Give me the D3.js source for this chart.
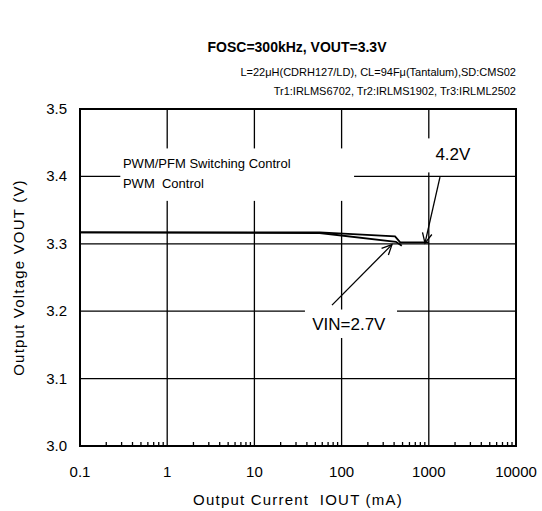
<!DOCTYPE html>
<html>
<head>
<meta charset="utf-8">
<script src="https://cdn.jsdelivr.net/npm/d3@7"></script>
<style>
body { margin: 0; background: #fff; }
text { font-family: "Liberation Sans", Arial, sans-serif; fill: #000; white-space: pre; }
</style>
</head>
<body>
<div id="chart"></div>
<script>
// ---- data ----
const xTicks = [0.1, 1, 10, 100, 1000, 10000];
const yTicks = [3.0, 3.1, 3.2, 3.3, 3.4, 3.5];
// VIN = 2.7V curve
const iout27 = [0.1, 56, 420, 490];
const vout27 = [3.317, 3.316, 3.303, 3.297];
// VIN = 4.2V curve
const iout42 = [0.1, 56, 410, 470, 1000];
const vout42 = [3.317, 3.317, 3.311, 3.302, 3.302];

const width = 542, height = 511;
const margin = {left: 80, right: 26, top: 109, bottom: 65};

const svg = d3.select("#chart").append("svg")
    .attr("width", width)
    .attr("height", height);

//----------------------------SCALES----------------------------//
const xScale = d3.scaleLog().domain([0.1, 10000]).range([margin.left, width - margin.right]);
const yScale = d3.scaleLinear().domain([3.0, 3.5]).range([height - margin.bottom, margin.top]);
const x0 = xScale.range()[0], x1 = xScale.range()[1];
const y0 = yScale.range()[0], y1 = yScale.range()[1];

//----------------------------TITLES----------------------------//
svg.append("text")
    .attr("x", 297).attr("y", 52)
    .attr("text-anchor", "middle")
    .style("font-size", "14px").style("font-weight", "bold")
    .text("FOSC=300kHz, VOUT=3.3V");

svg.append("text")
    .attr("x", x1).attr("y", 76)
    .attr("text-anchor", "end")
    .style("font-size", "11px")
    .text("L=22\u03BCH(CDRH127/LD), CL=94F\u03BC(Tantalum),SD:CMS02");
svg.append("text")
    .attr("x", x1).attr("y", 95)
    .attr("text-anchor", "end")
    .style("font-size", "11px")
    .text("Tr1:IRLMS6702, Tr2:IRLMS1902, Tr3:IRLML2502");

//----------------------------GRID-----------------------------//
svg.append("g").selectAll("line")
    .data(xTicks.slice(1, -1))
    .enter().append("line")
    .attr("x1", d => xScale(d)).attr("x2", d => xScale(d))
    .attr("y1", y0).attr("y2", y1)
    .attr("stroke", "#000").attr("stroke-width", 1.3);

svg.append("g").selectAll("line")
    .data(yTicks.slice(1, -1))
    .enter().append("line")
    .attr("x1", x0).attr("x2", x1)
    .attr("y1", d => yScale(d)).attr("y2", d => yScale(d))
    .attr("stroke", "#000").attr("stroke-width", 1.3);

// minor ticks on the bottom axis
const minor = [];
xTicks.slice(0, -1).forEach(function(d) {
    for (let k = 2; k <= 9; k++) minor.push(d * k);
});
svg.append("g").selectAll("line")
    .data(minor)
    .enter().append("line")
    .attr("x1", d => xScale(d)).attr("x2", d => xScale(d))
    .attr("y1", y0).attr("y2", y0 - 4)
    .attr("stroke", "#000").attr("stroke-width", 1.3);

//----------------------------LINES-----------------------------//
const line = d3.line()
    .x(d => xScale(d[0]))
    .y(d => yScale(d[1]));

[[iout27, vout27], [iout42, vout42]].forEach(function(s) {
    svg.append("path")
        .datum(d3.zip(s[0], s[1]))
        .attr("d", line)
        .attr("fill", "none")
        .attr("stroke", "#000")
        .attr("stroke-width", 1.8);
});

//-------------------------ANNOTATIONS--------------------------//
// white boxes behind the labels (they hide the grid)
const boxes = [
    {xa: 0.29, xb: 139, ya: 3.4415, yb: 3.3637},
    {xa: 780, xb: 2600, ya: 3.4564, yb: 3.4059},
    {xa: 38, xb: 432, ya: 3.2025, yb: 3.1602}
];
svg.append("g").selectAll("rect")
    .data(boxes)
    .enter().append("rect")
    .attr("x", d => xScale(d.xa))
    .attr("y", d => yScale(d.ya))
    .attr("width", d => xScale(d.xb) - xScale(d.xa))
    .attr("height", d => yScale(d.yb) - yScale(d.ya))
    .attr("fill", "#fff");

const labels = [
    {x: 0.311, y: 3.4118, size: 13, t: "PWM/PFM Switching Control"},
    {x: 0.311, y: 3.3822, size: 13, t: "PWM  Control"},
    {x: 1190, y: 3.4237, size: 17, t: "4.2V"},
    {x: 46, y: 3.1715, size: 17, t: "VIN=2.7V"}
];
svg.append("g").selectAll("text")
    .data(labels)
    .enter().append("text")
    .attr("x", d => xScale(d.x))
    .attr("y", d => yScale(d.y))
    .style("font-size", d => d.size + "px")
    .text(d => d.t);

const arrows = [
    {from: [1343, 3.399], to: [904, 3.301]},
    {from: [77.6, 3.209], to: [378, 3.2988]}
];
arrows.forEach(function(a) {
    const fx = xScale(a.from[0]), fy = yScale(a.from[1]);
    const tx = xScale(a.to[0]), ty = yScale(a.to[1]);
    const ang = Math.atan2(ty - fy, tx - fx);
    const L = 11, spread = 0.45;
    svg.append("line")
        .attr("x1", fx).attr("y1", fy).attr("x2", tx).attr("y2", ty)
        .attr("stroke", "#000").attr("stroke-width", 1.3);
    svg.append("path")
        .attr("d", "M" + (tx - L * Math.cos(ang - spread)) + "," + (ty - L * Math.sin(ang - spread))
            + "L" + tx + "," + ty
            + "L" + (tx - L * Math.cos(ang + spread)) + "," + (ty - L * Math.sin(ang + spread)))
        .attr("fill", "none")
        .attr("stroke", "#000").attr("stroke-width", 1.3);
});

//-----------------------------AXES-----------------------------//
svg.append("rect")
    .attr("x", x0).attr("y", y1)
    .attr("width", x1 - x0).attr("height", y0 - y1)
    .attr("fill", "none").attr("stroke", "#000").attr("stroke-width", 2);

svg.append("g").selectAll("text")
    .data(xTicks)
    .enter().append("text")
    .attr("x", d => xScale(d))
    .attr("y", y0 + 31)
    .attr("text-anchor", "middle")
    .style("font-size", "15px")
    .text(d => String(d));

svg.append("g").selectAll("text")
    .data(yTicks)
    .enter().append("text")
    .attr("x", x0 - 13)
    .attr("y", d => yScale(d) + 5)
    .attr("text-anchor", "end")
    .style("font-size", "15px")
    .text(d => d3.format(".1f")(d));

svg.append("text")
    .attr("x", (x0 + x1) / 2)
    .attr("y", 505)
    .attr("text-anchor", "middle")
    .style("font-size", "15px")
    .style("letter-spacing", "1.2px")
    .text("Output Current  IOUT (mA)");

svg.append("text")
    .attr("transform", "translate(24," + ((y0 + y1) / 2) + ") rotate(-90)")
    .attr("text-anchor", "middle")
    .style("font-size", "15px")
    .style("letter-spacing", "1.2px")
    .text("Output Voltage VOUT (V)");
</script>
</body>
</html>
